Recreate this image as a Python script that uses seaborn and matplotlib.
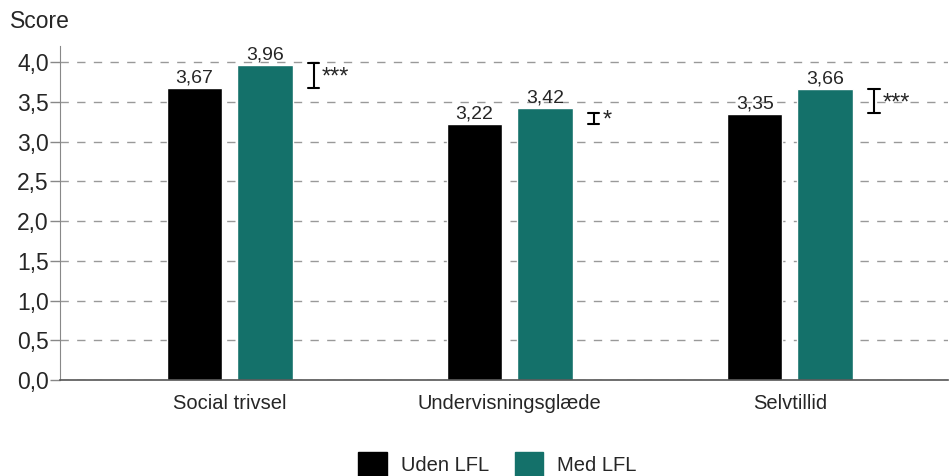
import pandas as pd
import seaborn as sns
import matplotlib.pyplot as plt
from matplotlib.patches import Patch

# Data
categories = ["Social trivsel", "Undervisningsglæde", "Selvtillid"]
groups = ["Uden LFL", "Med LFL"]
uden_lfl = [3.67, 3.22, 3.35]
med_lfl = [3.96, 3.42, 3.66]
ci_low = [3.67, 3.22, 3.36]
ci_high = [3.99, 3.36, 3.66]
stars = ["***", "*", "***"]
yticks = [0.0, 0.5, 1.0, 1.5, 2.0, 2.5, 3.0, 3.5, 4.0]

colors = ["#000000", "#14716a"]

df = pd.DataFrame({
    "Kategori": categories * 2,
    "Gruppe": [groups[0]] * 3 + [groups[1]] * 3,
    "Score": uden_lfl + med_lfl,
})

sns.set_style("white")
plt.rcParams["font.family"] = ["Liberation Sans", "DejaVu Sans"]

fig = plt.figure(figsize=(9.53, 4.76), dpi=100)
ax = fig.add_axes([0.063, 0.2017, 0.932, 0.7013])

sns.barplot(data=df, x="Kategori", y="Score", hue="Gruppe",
            palette=colors, saturation=1, width=0.503, gap=0.213, ax=ax,
            legend=False, errorbar=None)

# value labels
for cont in ax.containers:
    ax.bar_label(cont, labels=[f"{v:.2f}".replace(".", ",") for v in cont.datavalues],
                 fontsize=14, padding=1)

# significance bars
for i in range(len(categories)):
    x = i + 0.30
    ax.plot([x, x], [ci_low[i], ci_high[i]], color="black", lw=1.5, zorder=5)
    for yy in (ci_low[i], ci_high[i]):
        ax.plot([x - 0.02, x + 0.02], [yy, yy], color="black", lw=1.5, zorder=5)
    ax.text(x + 0.03, (ci_low[i] + ci_high[i]) / 2 - 0.03, stars[i],
            fontsize=17, va="center", ha="left")

ax.set_xlim(-0.605, 2.565)
ax.set_ylim(0, 4.2)
ax.set_yticks(yticks)
ax.set_yticklabels([f"{t:.1f}".replace(".", ",") for t in yticks], fontsize=16.5)
ax.tick_params(axis="x", labelsize=14.5, length=0, pad=10)
ax.tick_params(axis="y", length=7, width=1, color="#888888", left=True, pad=1)
ax.yaxis.grid(True, linestyle=(0, (6, 6)), color="#999999", lw=1)
ax.set_axisbelow(True)
ax.set_xlabel("")
ax.set_ylabel("")
for s in ["top", "right"]:
    ax.spines[s].set_visible(False)
ax.spines["left"].set_color("#888888")
ax.spines["bottom"].set_color("#555555")
ax.spines["bottom"].set_linewidth(1.2)

fig.text(0.011, 0.955, "Score", fontsize=16.5, ha="left", va="center")

handles = [Patch(color=c, label=g) for c, g in zip(colors, groups)]
fig.legend(handles=handles, loc="center", bbox_to_anchor=(0.522, 0.025), ncol=2,
           frameon=False, fontsize=14.5, handlelength=1.4, handleheight=1.4,
           columnspacing=1.3, handletextpad=0.7)

fig.savefig("out.png", dpi=100)
